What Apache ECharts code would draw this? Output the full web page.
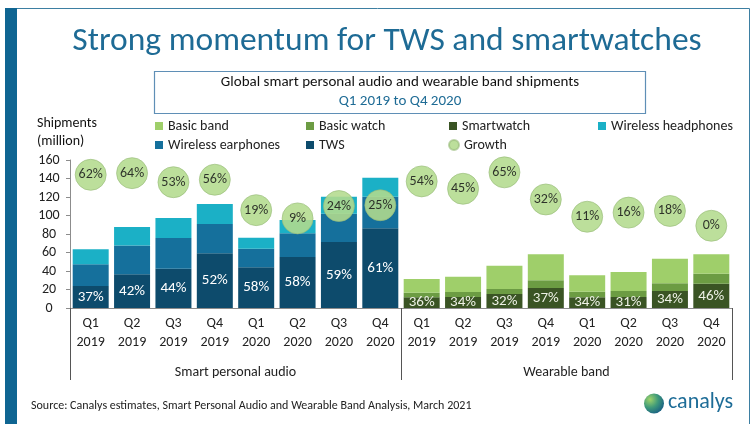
<!DOCTYPE html>
<html><head><meta charset="utf-8">
<script src="https://cdn.jsdelivr.net/npm/echarts@6/dist/echarts.min.js"></script>
<style>html,body{margin:0;padding:0;background:#fff}#c{width:754px;height:424px}</style>
</head><body><div id="c"></div>
<script>
const categories = ['Q1\n2019','Q2\n2019','Q3\n2019','Q4\n2019','Q1\n2020','Q2\n2020','Q3\n2020','Q4\n2020',
                    'Q1\n2019','Q2\n2019','Q3\n2019','Q4\n2019','Q1\n2020','Q2\n2020','Q3\n2020','Q4\n2020'];
const groupLabels = ['Smart personal audio', 'Wearable band'];
const yTicks = [0, 20, 40, 60, 80, 100, 120, 140, 160];

// Smart personal audio (million units)
const tws = [23.8, 36.4, 42.5, 59.1, 44.0, 55.1, 71.4, 86.1];
const wirelessEarphones = [23.4, 31.3, 33.2, 31.7, 20.1, 25.6, 30.6, 34.3];
const wirelessHeadphones = [16.2, 19.9, 21.6, 21.6, 11.9, 14.4, 18.4, 20.5];
const twsShare = [37, 42, 44, 52, 58, 58, 59, 61];
const audioGrowth = [62, 64, 53, 56, 19, 9, 24, 25];

// Wearable band (million units)
const smartwatch = [11.5, 11.9, 15.1, 21.6, 11.5, 11.9, 18.4, 26.3];
const basicWatch = [5.1, 5.4, 5.4, 8.3, 6.2, 6.5, 8.3, 10.8];
const basicBand = [14.8, 16.6, 25.3, 28.1, 17.6, 20.5, 26.6, 20.9];
const smartwatchShare = [36, 34, 32, 37, 34, 31, 34, 46];
const wearableGrowth = [54, 45, 65, 32, 11, 16, 18, 0];

const F = 'Carlito, Lato, "Open Sans", sans-serif';
const pad = n => Array(n).fill(null);
const audio = a => a.concat(pad(8));
const wear = a => pad(8).concat(a);
const growth = audioGrowth.concat(wearableGrowth);
const shares = twsShare.concat(smartwatchShare);

const C = {
  basicBand: '#9fcf6a', basicWatch: '#6c9c43', smartwatch: '#3a5424',
  headphones: '#1bb0c6', earphones: '#15709c', tws: '#0d4b6c', growth: '#b3db8d'
};

const chart = echarts.init(document.getElementById('c'), null, {renderer: 'canvas'});
const lb = {itemWidth: 8, itemHeight: 8, itemGap: 0, padding: 0, selectedMode: false,
  textStyle: {fontSize: 14, color: '#222', fontFamily: F}};
const barLabel = (color) => ({show: true, position: 'inside', color: color, fontSize: 15, fontFamily: F,
  formatter: p => shares[p.dataIndex] + '%'});

chart.setOption({
  animation: false,
  textStyle: {fontFamily: F},
  grid: {left: 70, right: 22, top: 160, bottom: 116, containLabel: false},
  legend: [
    {...lb, left: 155, top: 119, data: [{name: 'Basic band', icon: 'rect'}]},
    {...lb, left: 306, top: 119, data: [{name: 'Basic watch', icon: 'rect'}]},
    {...lb, left: 449, top: 119, data: [{name: 'Smartwatch', icon: 'rect'}]},
    {...lb, left: 598, top: 119, data: [{name: 'Wireless headphones', icon: 'rect'}]},
    {...lb, left: 155, top: 138, data: [{name: 'Wireless earphones', icon: 'rect'}]},
    {...lb, left: 306, top: 138, data: [{name: 'TWS', icon: 'rect'}]},
    {...lb, left: 448, top: 138, itemWidth: 10, itemHeight: 10, data: [{name: 'Growth', icon: 'circle'}]}
  ],
  xAxis: [
    {type: 'category', data: categories, position: 'bottom',
     axisLine: {show: true, onZero: false, lineStyle: {color: '#8c8c8c', width: 1}},
     axisTick: {show: false},
     axisLabel: {interval: 0, fontSize: 14, color: '#222', lineHeight: 19, margin: 6, fontFamily: F}},
    {type: 'category', data: groupLabels, position: 'bottom',
     axisLine: {show: false, onZero: false},
     axisTick: {show: true, length: 72, lineStyle: {color: '#555', width: 1}},
     axisLabel: {fontSize: 14, color: '#222', margin: 57, fontFamily: F}}
  ],
  yAxis: [
    {type: 'value', min: 0, max: 160, interval: 20,
     axisLine: {show: true, lineStyle: {color: '#8c8c8c'}},
     axisTick: {show: true, length: 4, lineStyle: {color: '#8c8c8c'}},
     splitLine: {show: false},
     axisLabel: {fontSize: 14, color: '#222', align: 'center', margin: 21, fontFamily: F,
       formatter: v => yTicks.indexOf(v) >= 0 ? String(v) : ''}},
    {type: 'value', min: -100, max: 80, show: false, splitLine: {show: false}}
  ],
  series: [
    {name: 'TWS', type: 'bar', stack: 'all', data: audio(tws), barCategoryGap: '13%',
     itemStyle: {color: C.tws}, label: barLabel('#ffffff')},
    {name: 'Wireless earphones', type: 'bar', stack: 'all', data: audio(wirelessEarphones),
     itemStyle: {color: C.earphones}},
    {name: 'Wireless headphones', type: 'bar', stack: 'all', data: audio(wirelessHeadphones),
     itemStyle: {color: C.headphones}},
    {name: 'Smartwatch', type: 'bar', stack: 'all', data: wear(smartwatch),
     itemStyle: {color: C.smartwatch}, label: barLabel('#eef2e6')},
    {name: 'Basic watch', type: 'bar', stack: 'all', data: wear(basicWatch),
     itemStyle: {color: C.basicWatch}},
    {name: 'Basic band', type: 'bar', stack: 'all', data: wear(basicBand),
     itemStyle: {color: C.basicBand}},
    {name: 'Growth', type: 'scatter', yAxisIndex: 1, data: growth, symbolSize: 31, z: 5,
     itemStyle: {color: C.growth, opacity: 0.88, borderColor: 'rgba(150,185,120,0.7)', borderWidth: 1},
     label: {show: true, position: 'inside', color: '#1a1a1a', fontSize: 14, fontFamily: F,
       formatter: p => p.value + '%'}}
  ],
  graphic: [
    {type: 'rect', z: -1, shape: {x: 5.5, y: 8.5, width: 744, height: 440}, style: {fill: 'none', stroke: '#3d7fa2', lineWidth: 1}},
    {type: 'rect', shape: {x: 5, y: 8, width: 12, height: 420}, style: {fill: '#0f6592'}},
    {type: 'text', x: 387, y: 42, style: {text: 'Strong momentum for TWS and smartwatches', fill: '#1e6b95',
      font: '33.5px ' + F, textAlign: 'center', textVerticalAlign: 'middle'}},
    {type: 'rect', shape: {x: 154.5, y: 71.5, width: 491, height: 42}, style: {fill: 'none', stroke: '#5f8fb6', lineWidth: 1.2}},
    {type: 'text', x: 400, y: 82, style: {text: 'Global smart personal audio and wearable band shipments', fill: '#111',
      font: '15px ' + F, textAlign: 'center', textVerticalAlign: 'middle'}},
    {type: 'text', x: 400, y: 101, style: {text: 'Q1 2019 to Q4 2020', fill: '#1e6b95',
      font: '15px ' + F, textAlign: 'center', textVerticalAlign: 'middle'}},
    {type: 'text', x: 37, y: 123, style: {text: 'Shipments', fill: '#111', font: '14px ' + F, textVerticalAlign: 'middle'}},
    {type: 'text', x: 37, y: 141, style: {text: '(million)', fill: '#111', font: '14px ' + F, textVerticalAlign: 'middle'}},
    {type: 'text', x: 31, y: 406, style: {text: 'Source: Canalys estimates, Smart Personal Audio and Wearable Band Analysis, March 2021',
      fill: '#222', font: '12px ' + F, textVerticalAlign: 'middle'}},
    {type: 'circle', shape: {cx: 654, cy: 403.5, r: 10}, style: {fill: {type: 'radial', x: 0.3, y: 0.3, r: 0.9,
      colorStops: [{offset: 0, color: '#9fd36a'}, {offset: 0.45, color: '#3f9a7a'}, {offset: 1, color: '#0c4d86'}]}}},
    {type: 'text', x: 668, y: 402, style: {text: 'canalys', fill: '#1d6c97', font: '22px ' + F, textVerticalAlign: 'middle'}}
  ]
});
</script></body></html>
